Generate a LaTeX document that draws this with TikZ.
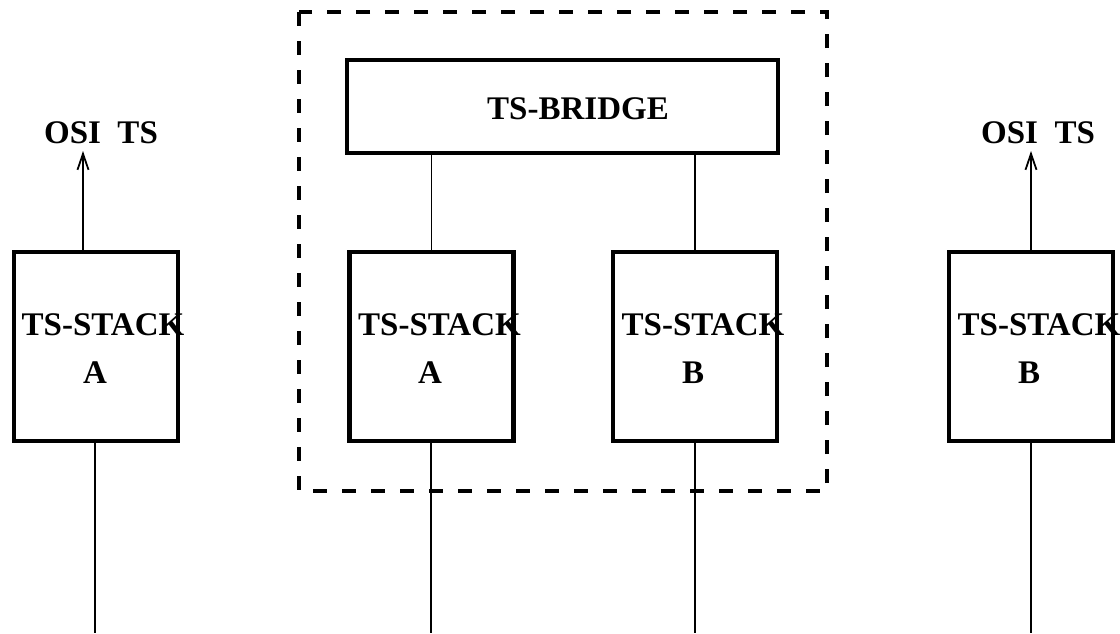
\documentclass[tikz,border=0pt]{standalone}
\usepackage{fontspec}
\setmainfont{Liberation Serif}
\usetikzlibrary{arrows.meta}
\begin{document}
\begin{tikzpicture}[x=1pt,y=-1pt,
  box/.style={draw,line width=4.5pt,rectangle,inner sep=0pt,outer sep=0pt,minimum width=164pt,minimum height=189pt},
  lbl/.style={anchor=base,inner sep=0pt,font=\fontsize{33}{38}\selectfont\bfseries},
  conn/.style={line width=1.8pt},
  arr/.style={line width=1.8pt,-{Straight Barb[length=16pt,width=11pt,line width=1.8pt]}},
  dashbox/.style={draw,line width=4.5pt,dash pattern=on 14pt off 15pt}]
\useasboundingbox (0,0) rectangle (1120,633);
% dashed frame
\draw[dashbox] (299,12) rectangle (827,491);
% boxes
\node[box] (sL) at (96,346.5) {};
\node[box] (sA) at (431.5,346.5) {};
\node[box] (sB) at (695,346.5) {};
\node[box] (sR) at (1031,346.5) {};
\node[box,minimum width=431pt,minimum height=93pt] (br) at (562.5,106.5) {};
% labels
\node[lbl] (tbr) at (578,119) {TS-BRIDGE};
\node[lbl] (tL1) at (103,335) {TS-STACK};
\node[lbl] (tL2) at (95,383) {A};
\node[lbl] (tA1) at (439.5,335) {TS-STACK};
\node[lbl] (tA2) at (430,383) {A};
\node[lbl] (tB1) at (703,335) {TS-STACK};
\node[lbl] (tB2) at (693,383) {B};
\node[lbl] (tR1) at (1039,335) {TS-STACK};
\node[lbl] (tR2) at (1029,383) {B};
\node[lbl] (oL) at (101,143) {OSI\ \ TS};
\node[lbl] (oR) at (1038,143) {OSI\ \ TS};
% connectors
\coordinate (tipL) at (83,151);
\coordinate (tipR) at (1031,151);
\draw[arr] (tipL |- sL.north) -- (tipL);
\draw[arr] (tipR |- sR.north) -- (tipR);
\draw[conn] (sA.north) -- (sA.north |- br.south);
\draw[conn] (sB.north) -- (sB.north |- br.south);
\coordinate (bL) at (95,633);
\coordinate (bA) at (431,633);
\coordinate (bB) at (695,633);
\coordinate (bR) at (1031,633);
\draw[conn] (bL |- sL.south) -- (bL);
\draw[conn] (bA |- sA.south) -- (bA);
\draw[conn] (bB |- sB.south) -- (bB);
\draw[conn] (bR |- sR.south) -- (bR);
\end{tikzpicture}
\end{document}
